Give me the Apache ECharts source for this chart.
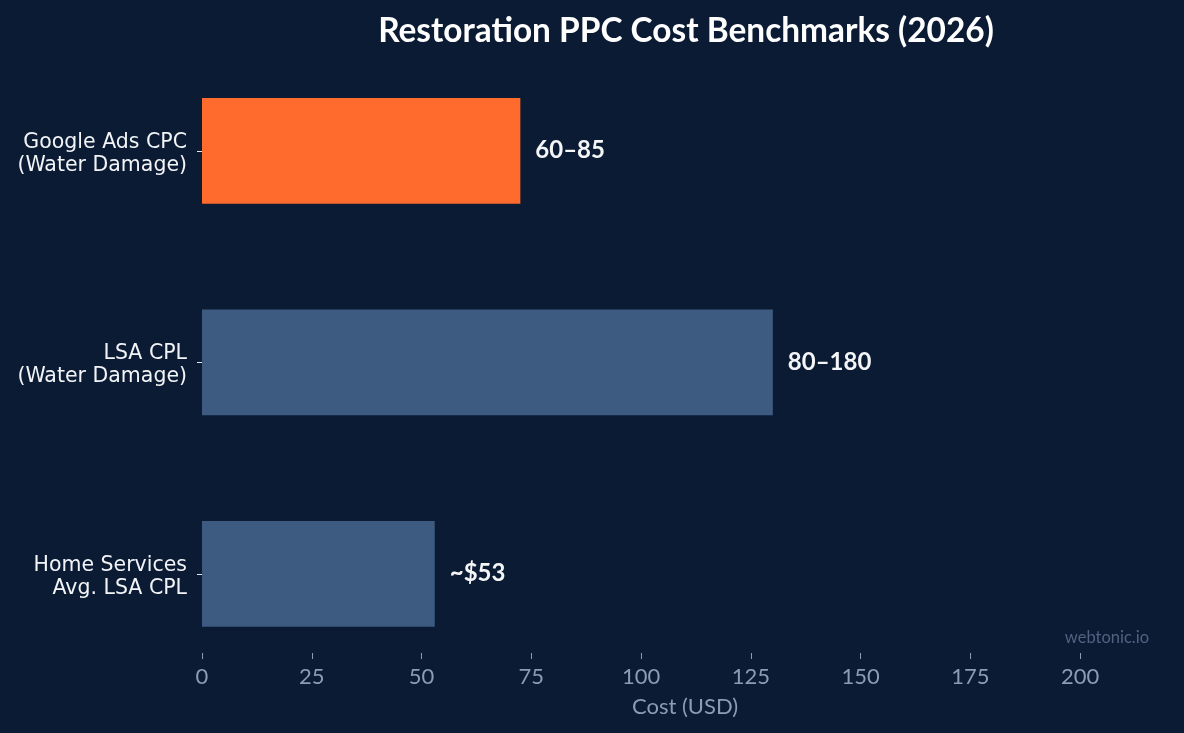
<!DOCTYPE html>
<html><head><meta charset="utf-8">
<script src="https://cdn.jsdelivr.net/npm/echarts@6/dist/echarts.min.js"></script>
<style>html,body{margin:0;padding:0;background:#0b1b34;}#c{width:1184px;height:733px;}</style>
</head><body><div id="c"></div>
<script>
const categories = ['Google Ads CPC\n(Water Damage)', 'LSA CPL\n(Water Damage)', 'Home Services\nAvg. LSA CPL'];
const values = [72.5, 130, 53];
const valueLabels = ['60–85', '80–180', '~$53'];
const barColors = ['#ff6b2c', '#3d5b80', '#3d5b80'];
const xTicks = [0, 25, 50, 75, 100, 125, 150, 175, 200];

const chart = echarts.init(document.getElementById('c'));
chart.setOption({
  backgroundColor: '#0b1b34',
  animation: false,
  title: {
    text: 'Restoration PPC Cost Benchmarks (2026)',
    left: 681, top: 10, textAlign: 'center',
    textStyle: {color: '#ffffff', fontFamily: 'Lato', fontWeight: 'bold', fontSize: 33.4}
  },
  grid: {left: 202, right: 16, top: 45, bottom: 53.5, containLabel: false},
  xAxis: {
    type: 'value', min: 0, max: 220, offset: -26.5,
    name: 'Cost (USD)', nameLocation: 'middle', nameGap: 43,
    nameTextStyle: {color: '#8d9bb3', fontFamily: 'Lato', fontSize: 22},
    axisLine: {show: false},
    splitLine: {show: false},
    axisTick: {show: true, customValues: xTicks, length: 6, lineStyle: {color: '#8d9bb3'}},
    axisLabel: {customValues: xTicks, color: '#8d9bb3', fontFamily: 'Lato', fontSize: 22, margin: 13}
  },
  yAxis: {
    type: 'category', data: categories, inverse: true,
    axisLine: {show: false},
    axisTick: {show: true, alignWithLabel: true, length: 5, lineStyle: {color: '#e6e9ef'}},
    axisLabel: {
      formatter: v => v.split('\n').map(s => '{a|' + s + '}').join('\n'),
      margin: 15, align: 'right',
      rich: {a: {color: '#f2f4f7', fontFamily: 'DejaVu Sans', fontSize: 20.5, lineHeight: 23, padding: [6, 0, 0, 0], align: 'right'}}
    }
  },
  series: [{
    type: 'bar',
    data: values.map((v, i) => ({value: v, itemStyle: {color: barColors[i]}})),
    barWidth: '50%',
    label: {
      show: true, position: 'right', distance: 15,
      formatter: p => valueLabels[p.dataIndex],
      color: '#f4f5f7', fontFamily: 'Lato', fontWeight: 'bold', fontSize: 24
    }
  }],
  graphic: [{
    type: 'text', right: 35, top: 629,
    style: {text: 'webtonic.io', fill: '#526180', font: '16.5px Lato'}
  }]
});
</script></body></html>
